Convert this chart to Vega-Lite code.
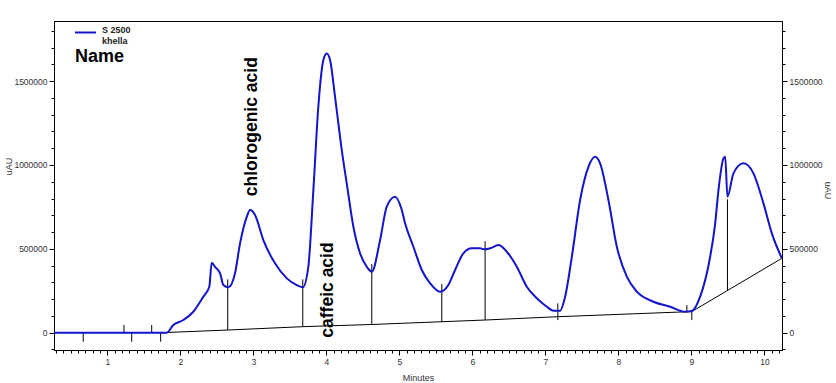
{
  "$schema": "https://vega.github.io/schema/vega-lite/v6.json",
  "width": 728,
  "height": 329,
  "autosize": {"type": "none"},
  "padding": {"left": 54, "top": 21, "right": 54, "bottom": 33},
  "background": "white",
  "config": {
    "view": {"stroke": "black", "strokeWidth": 1},
    "font": "Liberation Sans",
    "axis": {
      "grid": false,
      "domainColor": "black",
      "tickColor": "black",
      "labelColor": "#333333",
      "labelFont": "Liberation Sans",
      "labelFontSize": 8.5,
      "titleFont": "Liberation Sans",
      "titleFontSize": 9,
      "titleFontWeight": "normal",
      "titleColor": "#333333",
      "labelFlush": false,
      "labelOverlap": false
    }
  },
  "datasets": {
    "trace": [
      {"t": 0.27, "v": 0}, {"t": 1.0, "v": 0}, {"t": 1.5, "v": 0}, {"t": 1.79, "v": 0}, {"t": 1.814, "v": 0},
      {"t": 1.904, "v": 45900}, {"t": 2.041, "v": 75700}, {"t": 2.178, "v": 125000}, {"t": 2.315, "v": 214600},
      {"t": 2.397, "v": 274000}, {"t": 2.43, "v": 417000}, {"t": 2.475, "v": 393000}, {"t": 2.545, "v": 354000},
      {"t": 2.589, "v": 284000}, {"t": 2.658, "v": 270600}, {"t": 2.749, "v": 354000}, {"t": 2.818, "v": 532800},
      {"t": 2.91, "v": 691000}, {"t": 2.955, "v": 731000}, {"t": 3.023, "v": 701500}, {"t": 3.137, "v": 552000},
      {"t": 3.297, "v": 413600}, {"t": 3.458, "v": 324000}, {"t": 3.595, "v": 284000}, {"t": 3.677, "v": 270600},
      {"t": 3.753, "v": 393000}, {"t": 3.822, "v": 850000}, {"t": 3.89, "v": 1347000}, {"t": 3.959, "v": 1625000},
      {"t": 4.005, "v": 1665000}, {"t": 4.051, "v": 1625000}, {"t": 4.119, "v": 1406000}, {"t": 4.211, "v": 1089000},
      {"t": 4.279, "v": 890000}, {"t": 4.37, "v": 632000}, {"t": 4.462, "v": 473000}, {"t": 4.553, "v": 393000},
      {"t": 4.622, "v": 363600}, {"t": 4.736, "v": 552500}, {"t": 4.827, "v": 751000}, {"t": 4.941, "v": 810600},
      {"t": 5.033, "v": 731000}, {"t": 5.078, "v": 652000}, {"t": 5.192, "v": 512600}, {"t": 5.307, "v": 373700},
      {"t": 5.421, "v": 294400}, {"t": 5.558, "v": 244400}, {"t": 5.671, "v": 284300}, {"t": 5.763, "v": 373700},
      {"t": 5.877, "v": 473200}, {"t": 5.992, "v": 503000}, {"t": 6.105, "v": 503000}, {"t": 6.17, "v": 497000},
      {"t": 6.242, "v": 503000}, {"t": 6.356, "v": 522700}, {"t": 6.471, "v": 482700}, {"t": 6.608, "v": 393400},
      {"t": 6.745, "v": 274200}, {"t": 6.882, "v": 205000}, {"t": 7.019, "v": 155000}, {"t": 7.11, "v": 131000},
      {"t": 7.201, "v": 131000}, {"t": 7.27, "v": 214600}, {"t": 7.362, "v": 453000}, {"t": 7.475, "v": 791000},
      {"t": 7.589, "v": 989000}, {"t": 7.681, "v": 1049000}, {"t": 7.749, "v": 1009600}, {"t": 7.863, "v": 791000},
      {"t": 7.978, "v": 512600}, {"t": 8.115, "v": 333800}, {"t": 8.252, "v": 244400}, {"t": 8.479, "v": 184800},
      {"t": 8.708, "v": 155000}, {"t": 8.913, "v": 125200}, {"t": 9.005, "v": 129300}, {"t": 9.119, "v": 214600},
      {"t": 9.256, "v": 453000}, {"t": 9.325, "v": 652000}, {"t": 9.37, "v": 850000}, {"t": 9.438, "v": 1039000},
      {"t": 9.462, "v": 1049000}, {"t": 9.493, "v": 810600}, {"t": 9.575, "v": 950000}, {"t": 9.712, "v": 1009600},
      {"t": 9.849, "v": 950000}, {"t": 9.986, "v": 771000}, {"t": 10.101, "v": 592000}, {"t": 10.238, "v": 443400}
    ],
    "baseline": [
      {"t": 1.731, "v": 0}, {"t": 2.649, "v": 16000}, {"t": 3.677, "v": 36000}, {"t": 4.622, "v": 49000},
      {"t": 5.581, "v": 65500}, {"t": 6.174, "v": 75700}, {"t": 7.17, "v": 95400}, {"t": 9.005, "v": 126000},
      {"t": 10.238, "v": 443400}
    ],
    "drops": [
      {"t": 0.67, "y1": 0, "y2": -53600},
      {"t": 1.228, "y1": 0, "y2": 46000},
      {"t": 1.334, "y1": 0, "y2": -53600},
      {"t": 1.608, "y1": 0, "y2": 46000},
      {"t": 1.731, "y1": 0, "y2": -53600},
      {"t": 2.649, "y1": 16000, "y2": 318000},
      {"t": 3.677, "y1": 36000, "y2": 318000},
      {"t": 4.622, "y1": 49000, "y2": 409000},
      {"t": 5.581, "y1": 65500, "y2": 290000},
      {"t": 6.174, "y1": 75700, "y2": 546000},
      {"t": 7.17, "y1": 75700, "y2": 175000},
      {"t": 8.937, "y1": 126000, "y2": 165000},
      {"t": 9.005, "y1": 126000, "y2": 75700},
      {"t": 9.493, "y1": 252000, "y2": 795000}
    ],
    "peaks": [
      {"t": 2.985, "v": 1228000, "label": "chlorogenic acid"},
      {"t": 4.016, "v": 254500, "label": "caffeic acid"}
    ],
    "name": [
      {"t": 0.558, "v": 1615000, "label": "Name"}
    ]
  },
  "resolve": {"axis": {"x": "independent", "y": "independent"}},
  "layer": [
    {
      "data": {"name": "baseline"},
      "mark": {"type": "line", "color": "black", "strokeWidth": 1, "clip": true},
      "encoding": {
        "x": {"field": "t", "type": "quantitative",
          "scale": {"domain": [0.27, 10.24], "nice": false, "zero": false},
          "axis": {"orient": "bottom", "labels": false, "title": null, "tickSize": 3,
            "values": [0.3,0.4,0.5,0.6,0.7,0.8,0.9,1.1,1.2,1.3,1.4,1.5,1.6,1.7,1.8,1.9,2.1,2.2,2.3,2.4,2.5,2.6,2.7,2.8,2.9,3.1,3.2,3.3,3.4,3.5,3.6,3.7,3.8,3.9,4.1,4.2,4.3,4.4,4.5,4.6,4.7,4.8,4.9,5.1,5.2,5.3,5.4,5.5,5.6,5.7,5.8,5.9,6.1,6.2,6.3,6.4,6.5,6.6,6.7,6.8,6.9,7.1,7.2,7.3,7.4,7.5,7.6,7.7,7.8,7.9,8.1,8.2,8.3,8.4,8.5,8.6,8.7,8.8,8.9,9.1,9.2,9.3,9.4,9.5,9.6,9.7,9.8,9.9,10.1,10.2]}},
        "y": {"field": "v", "type": "quantitative",
          "scale": {"domain": [-103000, 1858000], "nice": false, "zero": false},
          "axis": {"orient": "left", "labels": false, "title": null, "tickSize": 3,
            "values": [-100000,100000,200000,300000,400000,600000,700000,800000,900000,1100000,1200000,1300000,1400000,1600000,1700000,1800000]}}
      }
    },
    {
      "data": {"name": "drops"},
      "mark": {"type": "rule", "color": "black", "strokeWidth": 1},
      "encoding": {
        "x": {"field": "t", "type": "quantitative", "scale": {"domain": [0.27, 10.24], "nice": false, "zero": false}, "axis": null},
        "y": {"field": "y1", "type": "quantitative",
          "scale": {"domain": [-103000, 1858000], "nice": false, "zero": false},
          "axis": {"orient": "right", "values": [0, 500000, 1000000, 1500000], "format": "d", "tickSize": 5, "labelPadding": 2,
            "title": "uAU", "titleX": 45.5, "titleY": 169, "titleBaseline": "middle"}},
        "y2": {"field": "y2"}
      }
    },
    {
      "data": {"name": "trace"},
      "mark": {"type": "line", "strokeWidth": 2, "clip": true, "interpolate": "monotone"},
      "encoding": {
        "x": {"field": "t", "type": "quantitative",
          "scale": {"domain": [0.27, 10.24], "nice": false, "zero": false},
          "axis": {"orient": "bottom", "values": [1,2,3,4,5,6,7,8,9,10], "format": "d", "tickSize": 5, "labelPadding": 2,
            "title": "Minutes", "titleY": 27, "titleBaseline": "middle"}},
        "y": {"field": "v", "type": "quantitative",
          "scale": {"domain": [-103000, 1858000], "nice": false, "zero": false},
          "axis": {"orient": "left", "values": [0, 500000, 1000000, 1500000], "format": "d", "tickSize": 5, "labelPadding": 2,
            "title": "uAU", "titleX": -46, "titleY": 145, "titleBaseline": "middle"}},
        "color": {"datum": "S 2500|khella", "type": "nominal", "scale": {"range": ["#1414C8"]},
          "legend": {"orient": "none", "legendX": 20, "legendY": 0, "title": null, "symbolType": "stroke",
            "symbolSize": 441, "symbolStrokeWidth": 2, "labelExpr": "split(datum.label, '|')",
            "labelBaseline": "alphabetic",
            "labelFont": "Liberation Sans", "labelFontSize": 9, "labelFontWeight": "bold", "labelColor": "#222222", "labelOffset": 5}}
      }
    },
    {
      "data": {"name": "peaks"},
      "mark": {"type": "text", "angle": 270, "align": "center", "baseline": "middle", "font": "Liberation Sans",
        "fontSize": 17.5, "fontWeight": "bold", "color": "black"},
      "encoding": {
        "x": {"field": "t", "type": "quantitative", "scale": {"domain": [0.27, 10.24], "nice": false, "zero": false}, "axis": null},
        "y": {"field": "v", "type": "quantitative",
          "scale": {"domain": [-103000, 1858000], "nice": false, "zero": false},
          "axis": {"orient": "right", "labels": false, "title": null, "tickSize": 3,
            "values": [-100000,100000,200000,300000,400000,600000,700000,800000,900000,1100000,1200000,1300000,1400000,1600000,1700000,1800000]}},
        "text": {"field": "label"}
      }
    },
    {
      "data": {"name": "name"},
      "mark": {"type": "text", "align": "left", "baseline": "alphabetic", "font": "Liberation Sans",
        "fontSize": 18, "fontWeight": "bold", "color": "black"},
      "encoding": {
        "x": {"field": "t", "type": "quantitative", "scale": {"domain": [0.27, 10.24], "nice": false, "zero": false}, "axis": null},
        "y": {"field": "v", "type": "quantitative", "scale": {"domain": [-103000, 1858000], "nice": false, "zero": false}, "axis": null},
        "text": {"field": "label"}
      }
    }
  ]
}
